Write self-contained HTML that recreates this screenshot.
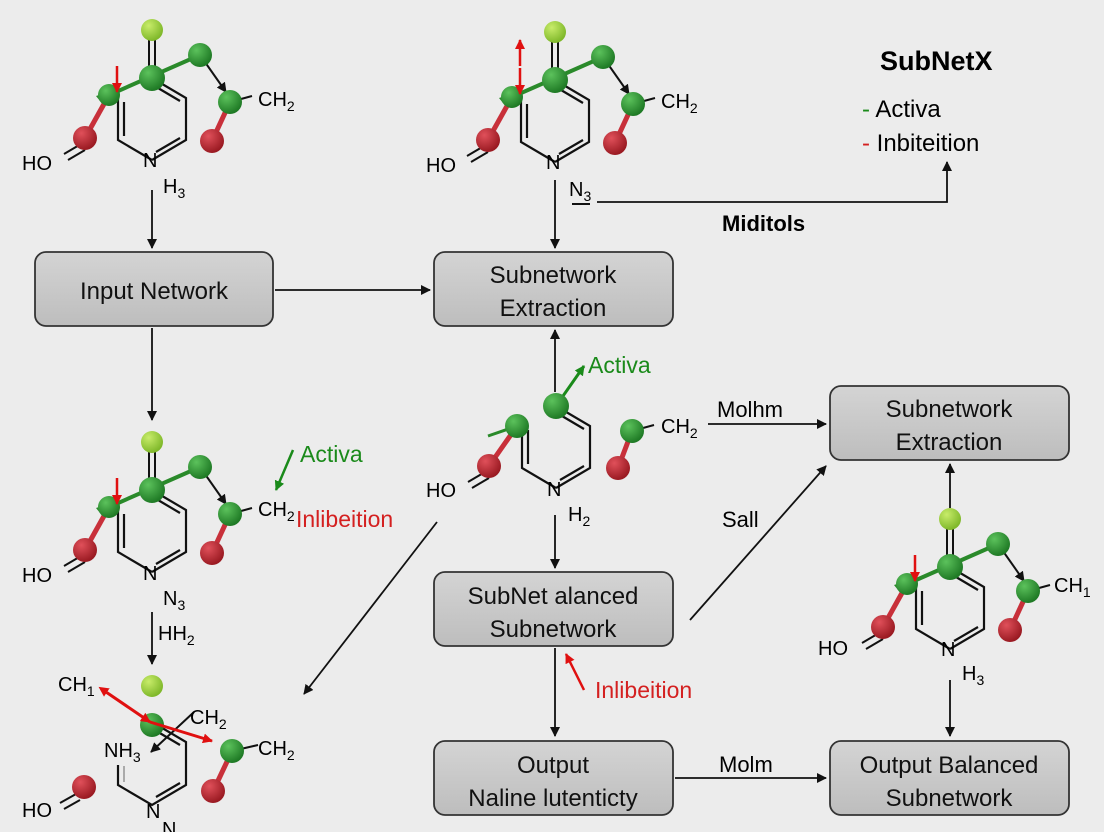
<!DOCTYPE html>
<html><head><meta charset="utf-8"><style>
html,body{margin:0;padding:0;background:#ececec}
svg{display:block}
text{font-family:"Liberation Sans",sans-serif}
</style></head><body>
<svg width="1104" height="832" viewBox="0 0 1104 832" xmlns="http://www.w3.org/2000/svg">
<defs>
<radialGradient id="gg" cx="35%" cy="30%" r="70%"><stop offset="0" stop-color="#5cc25c"/><stop offset="1" stop-color="#1f7a25"/></radialGradient>
<radialGradient id="gr" cx="35%" cy="30%" r="70%"><stop offset="0" stop-color="#e0505a"/><stop offset="1" stop-color="#9a1a22"/></radialGradient>
<radialGradient id="gy" cx="35%" cy="30%" r="70%"><stop offset="0" stop-color="#c8ec6a"/><stop offset="1" stop-color="#7fb82a"/></radialGradient>
<linearGradient id="bx" x1="0" y1="0" x2="0" y2="1"><stop offset="0" stop-color="#d4d4d4"/><stop offset="1" stop-color="#bdbdbd"/></linearGradient>
<marker id="ab" markerWidth="10" markerHeight="10" refX="9" refY="5" orient="auto" markerUnits="userSpaceOnUse"><path d="M0,0 L10,5 L0,10 z" fill="#111"/></marker>
<marker id="ar" markerWidth="10" markerHeight="10" refX="9" refY="5" orient="auto" markerUnits="userSpaceOnUse"><path d="M0,0 L10,5 L0,10 z" fill="#e01010"/></marker>
<marker id="ag" markerWidth="10" markerHeight="10" refX="9" refY="5" orient="auto" markerUnits="userSpaceOnUse"><path d="M0,0 L10,5 L0,10 z" fill="#1a8a1a"/></marker>
<marker id="arS" markerWidth="10" markerHeight="10" refX="1" refY="5" orient="auto-start-reverse" markerUnits="userSpaceOnUse"><path d="M0,0 L10,5 L0,10 z" fill="#e01010"/></marker>
<g id="ring" fill="none" stroke="#111" stroke-width="2.2">
<path d="M0,0 L34,20 L34,62 L0,82 M0,82 L-34,62 L-34,20"/>
<path d="M6,10 L28,23 M-28,24 L-28,58 M4,74 L28,60"/>
</g>
<g id="full">
<line x1="-3" y1="-4" x2="-3" y2="-42" stroke="#111" stroke-width="2"/>
<line x1="3" y1="-4" x2="3" y2="-42" stroke="#111" stroke-width="2"/>
<use href="#ring"/>
<line x1="-43" y1="17" x2="-67" y2="60" stroke="#c8303a" stroke-width="5"/>
<line x1="78" y1="24" x2="60" y2="63" stroke="#c8303a" stroke-width="5"/>
<line x1="78" y1="24" x2="100" y2="18" stroke="#111" stroke-width="2"/>
<line x1="-71" y1="66" x2="-88" y2="76" stroke="#111" stroke-width="2"/>
<line x1="-67" y1="72" x2="-84" y2="82" stroke="#111" stroke-width="2"/>
<line x1="48" y1="-23" x2="74" y2="14" stroke="#111" stroke-width="2" marker-end="url(#ab)"/>
<line x1="48" y1="-23" x2="-52" y2="21" stroke="#2a8a2a" stroke-width="4"/>
<path d="M-56,18 l6,-2 l-2,7z" fill="#2a8a2a"/>
<circle cx="0" cy="-48" r="11" fill="url(#gy)"/>
<circle cx="0" cy="0" r="13" fill="url(#gg)"/>
<circle cx="48" cy="-23" r="12" fill="url(#gg)"/>
<circle cx="78" cy="24" r="12" fill="url(#gg)"/>
<circle cx="60" cy="63" r="12" fill="url(#gr)"/>
<circle cx="-43" cy="17" r="11" fill="url(#gg)"/>
<circle cx="-67" cy="60" r="12" fill="url(#gr)"/>
<line x1="-35" y1="-12" x2="-35" y2="14" stroke="#e01010" stroke-width="2.5" marker-end="url(#ar)"/>
</g>
</defs>

<!-- molecules -->
<use href="#full" x="152" y="78"/>
<text x="22" y="170" font-size="20">HO</text>
<text x="258" y="106" font-size="20">CH<tspan font-size="14" dy="5">2</tspan></text>
<text x="143" y="167" font-size="20">N</text>
<text x="163" y="193" font-size="20">H<tspan font-size="14" dy="5">3</tspan></text>

<use href="#full" x="555" y="80"/>
<line x1="520" y1="66" x2="520" y2="40" stroke="#e01010" stroke-width="2.5" marker-end="url(#ar)"/>
<text x="426" y="172" font-size="20">HO</text>
<text x="661" y="108" font-size="20">CH<tspan font-size="14" dy="5">2</tspan></text>
<text x="546" y="169" font-size="20">N</text>
<text x="569" y="196" font-size="20">N<tspan font-size="14" dy="5">3</tspan></text>
<line x1="572" y1="204" x2="590" y2="204" stroke="#111" stroke-width="2"/>

<use href="#full" x="152" y="490"/>
<text x="22" y="582" font-size="20">HO</text>
<text x="258" y="516" font-size="20">CH<tspan font-size="14" dy="5">2</tspan></text>
<text x="143" y="580" font-size="20">N</text>
<text x="163" y="605" font-size="20">N<tspan font-size="14" dy="5">3</tspan></text>
<text x="158" y="640" font-size="20">HH<tspan font-size="14" dy="5">2</tspan></text>
<line x1="293" y1="450" x2="276" y2="490" stroke="#1a8a1a" stroke-width="2.5" marker-end="url(#ag)"/>
<text x="300" y="462" font-size="23" fill="#1a8a1a">Activa</text>
<text x="296" y="527" font-size="23" fill="#d42020">Inlibeition</text>

<use href="#full" x="950" y="567"/>
<text x="818" y="655" font-size="20">HO</text>
<text x="1054" y="592" font-size="20">CH<tspan font-size="14" dy="5">1</tspan></text>
<text x="941" y="656" font-size="20">N</text>
<text x="962" y="680" font-size="20">H<tspan font-size="14" dy="5">3</tspan></text>

<!-- center partial molecule -->
<g transform="translate(556,406)">
<use href="#ring"/>
<line x1="-39" y1="20" x2="-67" y2="60" stroke="#c8303a" stroke-width="5"/>
<line x1="76" y1="25" x2="62" y2="62" stroke="#c8303a" stroke-width="5"/>
<line x1="76" y1="25" x2="98" y2="19" stroke="#111" stroke-width="2"/>
<line x1="-71" y1="66" x2="-88" y2="76" stroke="#111" stroke-width="2"/>
<line x1="-67" y1="72" x2="-84" y2="82" stroke="#111" stroke-width="2"/>
<line x1="-39" y1="20" x2="-68" y2="30" stroke="#2a8a2a" stroke-width="3"/>
<line x1="0" y1="0" x2="28" y2="-40" stroke="#1a8a1a" stroke-width="3" marker-end="url(#ag)"/>
<circle cx="0" cy="0" r="13" fill="url(#gg)"/>
<circle cx="-39" cy="20" r="12" fill="url(#gg)"/>
<circle cx="-67" cy="60" r="12" fill="url(#gr)"/>
<circle cx="76" cy="25" r="12" fill="url(#gg)"/>
<circle cx="62" cy="62" r="12" fill="url(#gr)"/>
</g>
<text x="426" y="497" font-size="20">HO</text>
<text x="661" y="433" font-size="20">CH<tspan font-size="14" dy="5">2</tspan></text>
<text x="547" y="496" font-size="20">N</text>
<text x="568" y="521" font-size="20">H<tspan font-size="14" dy="5">2</tspan></text>
<text x="588" y="373" font-size="23" fill="#1a8a1a">Activa</text>

<!-- bottom-left partial -->
<g>
<path d="M152,722 L186,742 L186,785 L152,805 L118,785 L118,765" fill="none" stroke="#111" stroke-width="2.2"/>
<path d="M158,732 L180,745 M156,797 L180,783" stroke="#111" stroke-width="2.2"/>
<line x1="124" y1="766" x2="124" y2="782" stroke="#aaa" stroke-width="2"/>
<line x1="232" y1="751" x2="216" y2="785" stroke="#c8303a" stroke-width="5"/>
<line x1="232" y1="751" x2="258" y2="745" stroke="#111" stroke-width="2"/>
<line x1="76" y1="794" x2="60" y2="803" stroke="#111" stroke-width="2"/>
<line x1="80" y1="800" x2="64" y2="809" stroke="#111" stroke-width="2"/>
<line x1="194" y1="712" x2="151" y2="752" stroke="#111" stroke-width="2" marker-end="url(#ab)"/>
<circle cx="152" cy="686" r="11" fill="url(#gy)"/>
<circle cx="152" cy="725" r="12" fill="url(#gg)"/>
<circle cx="232" cy="751" r="12" fill="url(#gg)"/>
<circle cx="213" cy="791" r="12" fill="url(#gr)"/>
<circle cx="84" cy="787" r="12" fill="url(#gr)"/>
<line x1="106" y1="692" x2="150" y2="722" stroke="#e01010" stroke-width="3" marker-start="url(#arS)" marker-end="url(#ar)"/>
<line x1="150" y1="722" x2="212" y2="741" stroke="#e01010" stroke-width="3" marker-end="url(#ar)"/>
</g>
<text x="58" y="691" font-size="20">CH<tspan font-size="14" dy="5">1</tspan></text>
<text x="190" y="724" font-size="20">CH<tspan font-size="14" dy="5">2</tspan></text>
<text x="104" y="757" font-size="20">NH<tspan font-size="14" dy="5">3</tspan></text>
<text x="258" y="755" font-size="20">CH<tspan font-size="14" dy="5">2</tspan></text>
<text x="22" y="817" font-size="20">HO</text>
<text x="146" y="818" font-size="20">N</text>
<text x="162" y="836" font-size="20">N</text>

<!-- connectors -->
<g stroke="#111" stroke-width="1.8" fill="none">
<line x1="152" y1="190" x2="152" y2="248" marker-end="url(#ab)"/>
<line x1="555" y1="180" x2="555" y2="248" marker-end="url(#ab)"/>
<line x1="275" y1="290" x2="430" y2="290" marker-end="url(#ab)"/>
<line x1="152" y1="328" x2="152" y2="420" marker-end="url(#ab)"/>
<line x1="555" y1="392" x2="555" y2="330" marker-end="url(#ab)"/>
<line x1="555" y1="515" x2="555" y2="568" marker-end="url(#ab)"/>
<line x1="555" y1="648" x2="555" y2="736" marker-end="url(#ab)"/>
<line x1="675" y1="778" x2="826" y2="778" marker-end="url(#ab)"/>
<line x1="950" y1="680" x2="950" y2="736" marker-end="url(#ab)"/>
<line x1="950" y1="508" x2="950" y2="464" marker-end="url(#ab)"/>
<line x1="708" y1="424" x2="826" y2="424" marker-end="url(#ab)"/>
<line x1="690" y1="620" x2="826" y2="466" marker-end="url(#ab)"/>
<line x1="437" y1="522" x2="304" y2="694" marker-end="url(#ab)"/>
<line x1="152" y1="612" x2="152" y2="664" marker-end="url(#ab)"/>
<polyline points="597,202 947,202 947,162" marker-end="url(#ab)"/>
</g>
<line x1="584" y1="690" x2="566" y2="654" stroke="#e01010" stroke-width="2.5" marker-end="url(#ar)"/>
<text x="595" y="698" font-size="23" fill="#d42020">Inlibeition</text>

<!-- boxes -->
<g stroke="#333" stroke-width="1.8" fill="url(#bx)">
<rect x="35" y="252" width="238" height="74" rx="11"/>
<rect x="434" y="252" width="239" height="74" rx="11"/>
<rect x="830" y="386" width="239" height="74" rx="11"/>
<rect x="434" y="572" width="239" height="74" rx="11"/>
<rect x="434" y="741" width="239" height="74" rx="11"/>
<rect x="830" y="741" width="239" height="74" rx="11"/>
</g>
<g font-size="24" text-anchor="middle" fill="#111">
<text x="154" y="299">Input Network</text>
<text x="553" y="283">Subnetwork</text><text x="553" y="316">Extraction</text>
<text x="949" y="417">Subnetwork</text><text x="949" y="450">Extraction</text>
<text x="553" y="604">SubNet alanced</text><text x="553" y="637">Subnetwork</text>
<text x="553" y="773">Output</text><text x="553" y="806">Naline lutenticty</text>
<text x="949" y="773">Output Balanced</text><text x="949" y="806">Subnetwork</text>
</g>
<text x="717" y="417" font-size="22">Molhm</text>
<text x="722" y="527" font-size="22">Sall</text>
<text x="719" y="772" font-size="22">Molm</text>
<text x="722" y="231" font-size="22" font-weight="bold">Miditols</text>
<text x="880" y="70" font-size="27" font-weight="bold">SubNetX</text>
<text x="862" y="117" font-size="24"><tspan fill="#1a8a1a">-</tspan> Activa</text>
<text x="862" y="151" font-size="24"><tspan fill="#d42020">-</tspan> Inbiteition</text>
</svg>
</body></html>
